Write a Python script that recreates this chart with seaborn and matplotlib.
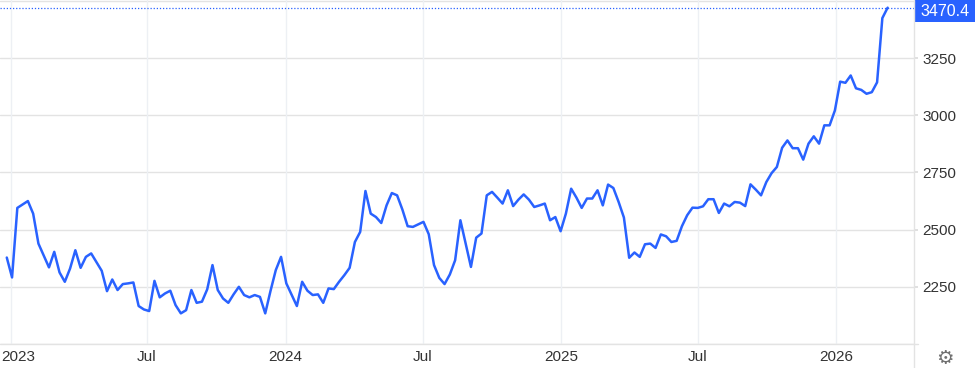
import matplotlib
matplotlib.use("Agg")
import matplotlib.pyplot as plt
from matplotlib.lines import Line2D
from matplotlib.patches import Rectangle
import numpy as np
import pandas as pd
import seaborn as sns

# ---- data (weekly closes) ----
start_date = "2022-12-27"
prices_seg1 = [2378, 2291, 2595, 2610, 2625, 2570, 2439, 2387, 2335, 2403, 2313, 2272,
               2330, 2410, 2333, 2381, 2396, 2358, 2320, 2231, 2282, 2236, 2262, 2265,
               2269, 2166, 2151, 2144, 2276, 2204, 2221, 2233, 2170, 2134, 2148, 2236,
               2180, 2185, 2239, 2345, 2236, 2199, 2180, 2217, 2250, 2214, 2204, 2214]
prices_seg2 = [2206, 2134, 2232, 2323, 2381, 2265, 2215, 2166, 2272, 2233, 2214, 2217,
               2180, 2243, 2240, 2272, 2301, 2333, 2446, 2490, 2669, 2570, 2555, 2529,
               2606, 2660, 2650, 2588, 2515, 2512, 2523, 2534, 2480, 2345, 2289, 2262,
               2304, 2366, 2541, 2439, 2337, 2465, 2483, 2650]
prices_seg3 = [2665, 2640, 2614, 2672, 2603, 2631, 2654, 2631, 2599, 2606, 2614, 2541,
               2555, 2493, 2570, 2679, 2640, 2595, 2636, 2636, 2672, 2606, 2697, 2682,
               2621, 2553, 2377, 2400, 2381, 2436, 2439, 2420, 2479, 2471, 2446, 2451,
               2515, 2563, 2596, 2595]
prices_seg4 = [2602, 2633, 2633, 2573, 2614, 2602, 2621, 2618, 2603, 2698, 2675, 2650,
               2708, 2747, 2774, 2858, 2890, 2856, 2856, 2806, 2876, 2908, 2876, 2956,
               2956, 3021, 3147, 3142, 3174, 3118, 3111, 3094, 3101, 3144, 3425, 3470.4]
y_ticks = [2250, 2500, 2750, 3000, 3250]
x_tick_dates = ["2023-01-01", "2023-07-01", "2024-01-01", "2024-07-01",
                "2025-01-01", "2025-07-01", "2026-01-01"]
x_tick_labels = ["2023", "Jul", "2024", "Jul", "2025", "Jul", "2026"]
last_label = "3470.4"

values = prices_seg1 + prices_seg2 + prices_seg3 + prices_seg4
dates = pd.date_range(start_date, periods=len(values), freq="7D")
df = pd.DataFrame({"date": dates, "price": values})

# ---- style ----
sns.set_theme(style="white")
plt.rcParams["font.family"] = ["Liberation Sans", "DejaVu Sans"]

W, H = 975, 368
fig = plt.figure(figsize=(W / 100, H / 100), dpi=100)
ax_left, ax_right, ax_top, ax_bottom = 0, 914, 0, 344
ax = fig.add_axes([ax_left / W, 1 - ax_bottom / H, (ax_right - ax_left) / W,
                   (ax_bottom - ax_top) / H])

blue = "#2962ff"
sns.lineplot(data=df, x="date", y="price", ax=ax, color=blue, linewidth=1.8)

ax.set_xlim(pd.Timestamp("2022-12-18"), pd.Timestamp("2026-04-14"))
ax.set_ylim(2000, 3504)

# gridlines
for yv in [2000] + y_ticks + [3500]:
    ax.axhline(yv, color="#e3e3e3", linewidth=1.0, zorder=0)
for d in x_tick_dates:
    ax.axvline(pd.Timestamp(d), color="#edf0f4", linewidth=1.0, zorder=0)

# dotted last-value line
ax.axhline(values[-1], color=blue, linewidth=0.9, linestyle=(0, (1, 1.5)), zorder=1)

ax.yaxis.tick_right()
ax.set_yticks(y_ticks)
ax.set_yticklabels([str(v) for v in y_ticks])
ax.set_xticks([pd.Timestamp(d) for d in x_tick_dates])
# first label is drawn clamped to the left edge (as in the reference)
ax.set_xticklabels([""] + x_tick_labels[1:])
ax.tick_params(axis="y", which="both", length=3, color="#dcdcdc", pad=3,
               labelsize=11, labelcolor="#333333", right=True, left=False)
ax.tick_params(axis="x", which="both", length=0, pad=4,
               labelsize=11, labelcolor="#333333")
ax.set_xlabel("")
ax.set_ylabel("")
for s in ax.spines.values():
    s.set_visible(False)
ax.grid(False)
ax.patch.set_alpha(0)

x_lab_y = ax.get_xticklabels()[1].get_position()
fig.canvas.draw()
lab_bb = ax.get_xticklabels()[1].get_window_extent()
fig.text(1 / W, lab_bb.y1 / H, x_tick_labels[0], fontsize=11, color="#333333",
         ha="left", va="top")

# separator lines
fig.add_artist(Line2D([ax_right / W, ax_right / W], [0, 1], color="#e3e3e3",
                      linewidth=1.0, transform=fig.transFigure))
fig.add_artist(Line2D([0, (ax_right + 4) / W], [1 - ax_bottom / H, 1 - ax_bottom / H],
                      color="#e3e3e3", linewidth=1.0, transform=fig.transFigure))

# last value badge
fig.add_artist(Rectangle(((ax_right + 1) / W, 1 - 22 / H), (W - ax_right - 1) / W, 22 / H,
                         transform=fig.transFigure, facecolor=blue, edgecolor="none"))
fig.text(945.5 / W, 1 - 11 / H, last_label, color="white", fontsize=11.5,
         va="center", ha="center")

# settings gear
fig.text(945 / W, 1 - 358 / H, "\u2699", color="#707070", fontsize=14,
         ha="center", va="center", family=["DejaVu Sans"])

fig.savefig("out.png", dpi=100)
